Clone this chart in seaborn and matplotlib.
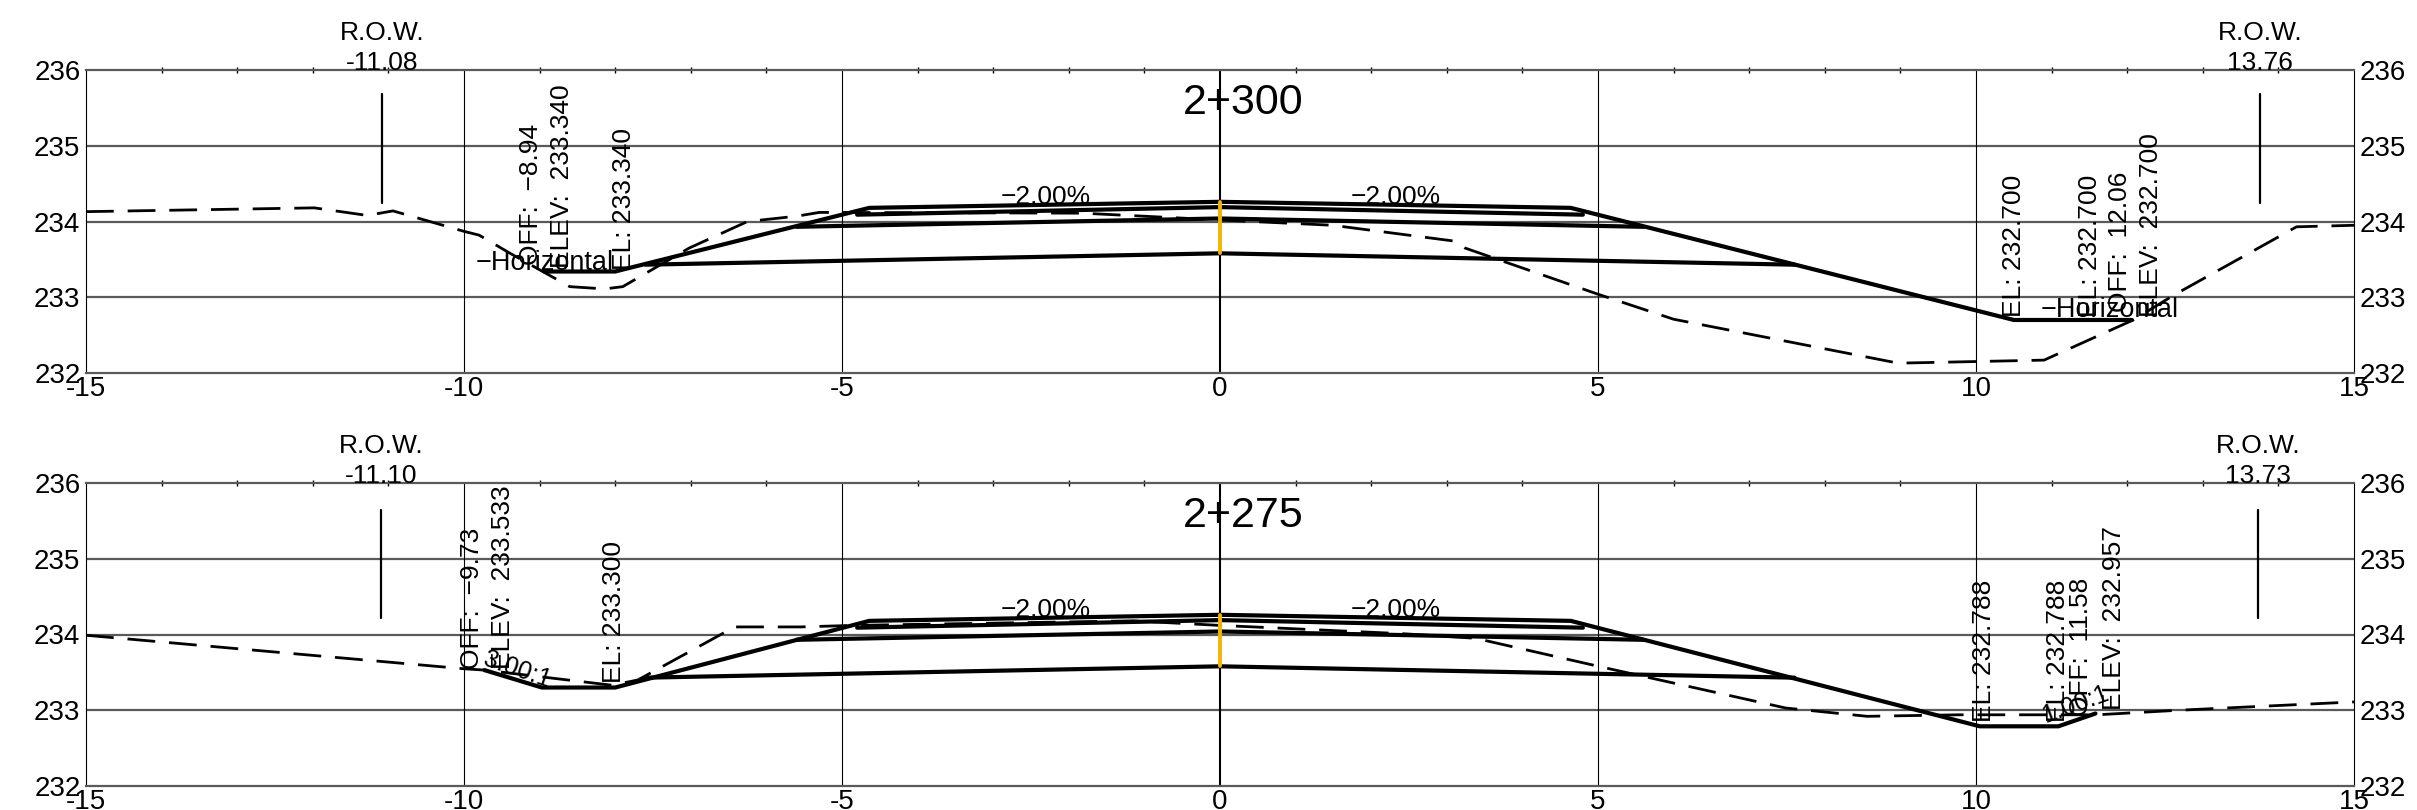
"""Cross sections at stations 2+300 and 2+275."""

import matplotlib.pyplot as plt
import pandas as pd
import seaborn as sns

# offsets and elevations
ground_300_x = [-15, -11.98, -11.28, -10.94, -10, -9.8, -9.39, -8.6, -8.14, -7.9, -7.02, -6.25, -5.6, -5.3,
                -1.82, 0, 1.49, 3.11, 3.24, 5, 6, 8.97, 10.9, 12.08, 12.62, 14.24, 15]
ground_300_y = [234.13, 234.18, 234.08, 234.14, 233.87, 233.82, 233.58, 233.14, 233.11, 233.14, 233.65, 234.0,
                234.07, 234.12, 234.11, 234.02, 233.95, 233.74, 233.65, 233.04, 232.71, 232.13, 232.17, 232.7,
                233.03, 233.93, 233.95]
ground_275_x = [-15, -10.03, -9.73, -8.04, -7.7, -6.42, -5.55, -4.86, -1.15, 0, 2.43, 3.38, 5.05, 7.48, 8.56,
                9.78, 11.6, 12.68, 15]
ground_275_y = [233.99, 233.55, 233.53, 233.33, 233.4, 234.1, 234.1, 234.12, 234.18, 234.12, 234.01, 233.95,
                233.57, 233.03, 232.92, 232.94, 232.94, 233.0, 233.11]

surface_300_x = [-8.94, -8.0, -4.64, 0, 4.64, 10.5, 12.06]
surface_300_y = [233.34, 233.34, 234.18, 234.26, 234.18, 232.7, 232.7]
surface_275_x = [-9.73, -8.97, -8.0, -4.64, 0, 4.64, 10.05, 11.09, 11.58]
surface_275_y = [233.53, 233.3, 233.3, 234.18, 234.26, 234.18, 232.788, 232.788, 232.957]

layer_2_x = [-4.8, 0, 4.8]
layer_2_y = [234.09, 234.19, 234.09]
layer_3_x = [-5.6, 0, 5.6]
layer_3_y = [233.93, 234.04, 233.93]
layer_4_x = [-7.6, 0, 7.6]
layer_4_y = [233.43, 233.58, 233.43]

centre_x = [0, 0]
centre_y = [233.58, 234.26]

stations = ["2+300", "2+275"]
row_offsets = [(-11.08, 13.76), (-11.10, 13.73)]
row_spans = [(234.25, 235.68), (234.22, 235.65)]

labels_300 = [
    (-9.11, 233.42, "OFF:  −8.94"),
    (-8.7, 233.38, "ELEV:  233.340"),
    (-7.88, 233.36, "EL: 233.340"),
    (10.5, 232.74, "EL: 232.700"),
    (11.51, 232.74, "EL: 232.700"),
    (11.9, 232.8, "OFF:  12.06"),
    (12.31, 232.74, "ELEV:  232.700"),
]
labels_275 = [
    (-9.9, 233.55, "OFF:  −9.73"),
    (-9.48, 233.55, "ELEV:  233.533"),
    (-8.01, 233.36, "EL: 233.300"),
    (10.1, 232.85, "EL: 232.788"),
    (11.09, 232.85, "EL: 232.788"),
    (11.39, 232.92, "OFF:  11.58"),
    (11.82, 233.0, "ELEV:  232.957"),
]

x_major = [-15, -10, -5, 0, 5, 10, 15]
x_minor = list(range(-15, 16))
y_major = [232, 233, 234, 235, 236]

WIDTH, HEIGHT = 2417, 810
GRID = "#5a5a5a"


def draw_line(ax, x, y, **kwargs):
    frame = pd.DataFrame({"x": x, "y": y})
    sns.lineplot(data=frame, x="x", y="y", ax=ax, estimator=None, sort=False, legend=False, **kwargs)


def draw_section(ax, station, rows, spans, ground, surface, labels):
    draw_line(ax, ground[0], ground[1], color="black", linewidth=2.0, linestyle=(0, (10, 5)), zorder=3)
    draw_line(ax, surface[0], surface[1], color="black", linewidth=3.0, zorder=4)
    draw_line(ax, layer_2_x, layer_2_y, color="black", linewidth=3.0, zorder=4)
    draw_line(ax, layer_3_x, layer_3_y, color="black", linewidth=3.0, zorder=4)
    draw_line(ax, layer_4_x, layer_4_y, color="black", linewidth=3.0, zorder=4)
    draw_line(ax, centre_x, centre_y, color="#f5b400", linewidth=2.8, zorder=5)
    for offset in rows:
        draw_line(ax, [offset, offset], spans, color="black", linewidth=1.6, zorder=4)
        ax.annotate(f"{offset:.2f}", (offset, 236), xytext=(0, -5), textcoords="offset pixels",
                    ha="center", va="bottom", fontsize=19, annotation_clip=False)
        ax.annotate("R.O.W.", (offset, 236), xytext=(0, 25), textcoords="offset pixels",
                    ha="center", va="bottom", fontsize=19, annotation_clip=False)

    ax.set_xlim(-15, 15)
    ax.set_ylim(232, 236)
    ax.set_xticks(x_major, [str(v) for v in x_major])
    ax.set_xticks(x_minor, minor=True)
    ax.set_yticks(y_major, [str(v) for v in y_major])
    ax.tick_params(axis="x", which="major", length=6, width=1, direction="inout", pad=-1, labelsize=20)
    ax.tick_params(axis="x", which="minor", length=5, width=1, direction="inout", top=True)
    ax.tick_params(axis="y", length=0, pad=4, labelsize=20, labelright=True, right=False)
    ax.set_xlabel("")
    ax.set_ylabel("")
    for side in ["top", "bottom"]:
        ax.spines[side].set(color=GRID, linewidth=1.6)
    for side in ["left", "right"]:
        ax.spines[side].set(color="black", linewidth=0.8)
    for value in y_major[1:-1]:
        ax.axhline(value, color=GRID, lw=1.6, zorder=1)
    for value in x_major[1:-1]:
        ax.axvline(value, color="black", lw=1.5 if value == 0 else 0.8, zorder=1)

    ax.text(0.31, 235.57, station, ha="center", va="center", fontsize=31, zorder=6)
    for x_pos in (-2.3, 2.33):
        ax.text(x_pos, 234.33, "−2.00%", ha="center", va="center", fontsize=19, zorder=6)
    for x_pos, y_pos, text in labels:
        ax.text(x_pos, y_pos, text, rotation=90, ha="center", va="bottom", fontsize=19, zorder=6)


sns.set_theme(style="white")
plt.rcParams["font.family"] = ["Liberation Sans", "DejaVu Sans"]
plt.rcParams["text.color"] = "black"
plt.rcParams["xtick.color"] = "black"
plt.rcParams["ytick.color"] = "black"

fig = plt.figure(figsize=(WIDTH / 100, HEIGHT / 100), dpi=100)
ax_top = fig.add_axes([86 / WIDTH, 1 - 373 / HEIGHT, 2268 / WIDTH, 303 / HEIGHT])
ax_bottom = fig.add_axes([86 / WIDTH, 1 - 786 / HEIGHT, 2268 / WIDTH, 303 / HEIGHT])

draw_section(ax_top, stations[0], row_offsets[0], row_spans[0],
             (ground_300_x, ground_300_y), (surface_300_x, surface_300_y), labels_300)
draw_section(ax_bottom, stations[1], row_offsets[1], row_spans[1],
             (ground_275_x, ground_275_y), (surface_275_x, surface_275_y), labels_275)

ax_top.text(-9.85, 233.45, "−Horizontal", ha="left", va="center", fontsize=19.5, zorder=6)
ax_top.text(10.86, 232.83, "−Horizontal", ha="left", va="center", fontsize=19.5, zorder=6)
ax_bottom.text(-9.29, 233.53, "3.00:1", rotation=-19, ha="center", va="center", fontsize=18, zorder=6)
ax_bottom.text(11.31, 233.07, "1.00:1", rotation=20, ha="center", va="center", fontsize=18, zorder=6)

fig.savefig("out.png", dpi=100)
